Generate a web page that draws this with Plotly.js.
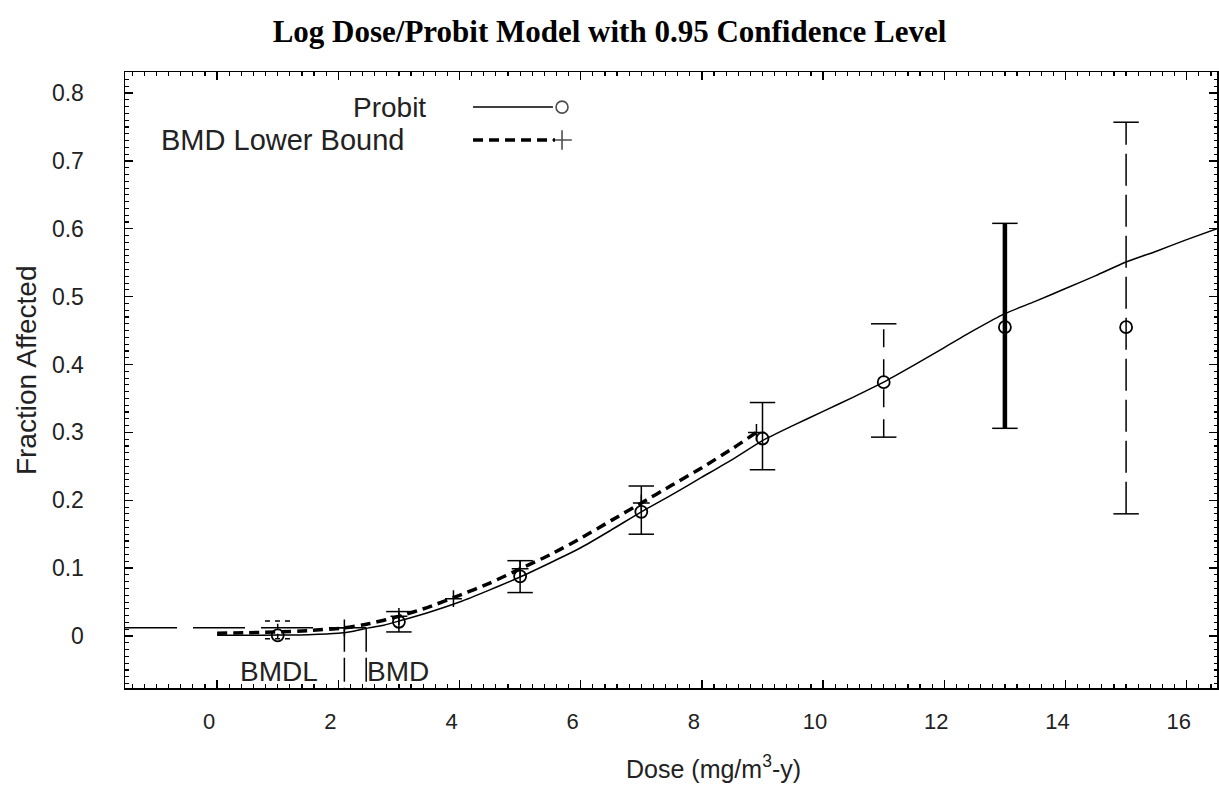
<!DOCTYPE html>
<html>
<head>
<meta charset="utf-8">
<script src="https://cdn.plot.ly/plotly-3.0.1.min.js"></script>
<style>
html,body{margin:0;padding:0;background:#fff;}
#chart{width:1219px;height:792px;}
</style>
</head>
<body>
<div id="chart"></div>
<script>
// ---- Data ----
const doses = [1, 3, 5, 7, 9, 11, 13, 15];
const fracAffected = [0.001, 0.021, 0.088, 0.183, 0.291, 0.374, 0.455, 0.455];
const ciLower = [-0.004, 0.006, 0.064, 0.150, 0.245, 0.293, 0.306, 0.180];
const ciUpper = [0.022, 0.036, 0.111, 0.221, 0.344, 0.460, 0.608, 0.757];

const probitDose = [0, 0.5, 1, 1.5, 2, 2.25, 2.5, 2.75, 3, 3.5, 4, 4.5, 5, 5.5, 6, 6.5, 7, 7.5, 8, 8.5, 9, 9.5, 10, 10.5, 11, 11.5, 12, 12.5, 13, 13.5, 14, 14.5, 15, 15.5, 16, 16.5];
const probitFrac = [0.001, 0.001, 0.0015, 0.002, 0.004, 0.007, 0.012, 0.016, 0.022, 0.035, 0.050, 0.068, 0.087, 0.108, 0.130, 0.156, 0.183, 0.208, 0.234, 0.260, 0.288, 0.310, 0.331, 0.352, 0.374, 0.399, 0.425, 0.451, 0.475, 0.493, 0.512, 0.531, 0.551, 0.567, 0.584, 0.600];

const lowerDose = [0, 1, 1.5, 2.1, 2.5, 3, 3.5, 4, 4.5, 5, 5.5, 6, 6.5, 7, 7.5, 8, 8.5, 8.9];
const lowerFrac = [0.004, 0.006, 0.008, 0.012, 0.018, 0.029, 0.043, 0.060, 0.078, 0.099, 0.120, 0.144, 0.170, 0.196, 0.222, 0.248, 0.276, 0.300];

const lowerMarkDose = [2.1, 3.0, 3.9, 5.0, 7.0, 8.9];
const lowerMarkFrac = [0.012, 0.029, 0.055, 0.099, 0.196, 0.300];

const bmr = 0.012;
const bmdl = 2.1;
const bmd = 2.46;

const xTickVals = [0, 2, 4, 6, 8, 10, 12, 14, 16];
const yTickVals = [0, 0.1, 0.2, 0.3, 0.4, 0.5, 0.6, 0.7, 0.8];
const yTickText = ['0', '0.1', '0.2', '0.3', '0.4', '0.5', '0.6', '0.7', '0.8'];

// ---- Styles ----
const xRange = [-1.52, 16.5];
const yRange = [-0.0766, 0.831];
const barDash = ['5px,5px', 'solid', 'solid', 'solid', 'solid', '18px,12px', 'solid', '32px,9px'];
const barWidth = [1.5, 1.5, 1.5, 1.5, 1.5, 1.5, 4.5, 1.5];
const capHalf = 0.21;
const sansFont = 'Liberation Sans, Arial, sans-serif';
const textColor = '#222';

const traces = [];

// BMR horizontal reference
traces.push({
  x: [xRange[0], bmd], y: [bmr, bmr], mode: 'lines',
  line: {color: '#000', width: 1.5, dash: '52px,16px'}, hoverinfo: 'skip'
});
// BMDL & BMD verticals
[bmdl, bmd].forEach(v => traces.push({
  x: [v, v], y: [bmr, yRange[0]], mode: 'lines',
  line: {color: '#000', width: 1.5, dash: '24px,6px'}, hoverinfo: 'skip'
}));

// Probit curve
traces.push({
  x: probitDose, y: probitFrac, mode: 'lines', line: {color: '#000', width: 1.5, shape: 'spline', smoothing: 0.6}
});
// BMD lower bound curve
traces.push({
  x: lowerDose, y: lowerFrac, mode: 'lines', line: {color: '#000', width: 3.5, dash: '10px,6px', shape: 'spline', smoothing: 0.6}
});
traces.push({
  x: lowerMarkDose, y: lowerMarkFrac, mode: 'markers',
  marker: {symbol: 'cross-thin-open', size: 12, color: '#000', line: {color: '#000', width: 1.5}}
});

// Error bars
doses.forEach((d, i) => {
  traces.push({
    x: [d, d], y: [ciLower[i], ciUpper[i]], mode: 'lines',
    line: {color: '#000', width: barWidth[i], dash: barDash[i]}, hoverinfo: 'skip'
  });
  traces.push({
    x: [d - capHalf, d + capHalf, null, d - capHalf, d + capHalf],
    y: [ciUpper[i], ciUpper[i], null, ciLower[i], ciLower[i]], mode: 'lines',
    line: {color: '#000', width: 1.5, dash: i === 0 ? barDash[0] : 'solid'}, hoverinfo: 'skip'
  });
});

// Observed data
traces.push({
  x: doses, y: fracAffected, mode: 'markers',
  marker: {symbol: 'circle-open', size: 12, color: '#000', line: {color: '#000', width: 1.8}}
});

// Legend symbols (paper-like overlay axes)
traces.push({
  x: [0.4002, 0.4002], y: [0.943, 0.8896], xaxis: 'x2', yaxis: 'y2', mode: 'markers',
  marker: {symbol: ['circle-open', 'cross-thin-open'], size: [12, 14], color: '#000', line: {color: '#000', width: 1.6}}
});

traces.forEach(t => { t.showlegend = false; });

const layout = {
  width: 1219, height: 792,
  margin: {l: 125, r: 2, t: 72, b: 104},
  paper_bgcolor: '#fff', plot_bgcolor: '#fff',
  title: {
    text: 'Log Dose/Probit Model with 0.95 Confidence Level',
    font: {family: 'Liberation Serif, Times New Roman, serif', size: 31, color: '#000', weight: 'bold'},
    x: 0.5, xref: 'container', xanchor: 'center', y: 0.961, yref: 'container', yanchor: 'middle'
  },
  xaxis: {
    range: xRange, showgrid: false, zeroline: false,
    showline: true, linecolor: '#000', linewidth: 1.5, mirror: 'allticks',
    ticks: 'inside', ticklen: 8, tickwidth: 1.3, tickcolor: '#000',
    tickvals: xTickVals, ticklabelstandoff: 13, ticklabelshift: -8,
    tickfont: {family: sansFont, size: 22, color: textColor},
    minor: {dtick: 0.2, tick0: 0, ticks: 'inside', ticklen: 4, tickwidth: 1.2, tickcolor: '#000', showgrid: false}
  },
  yaxis: {
    range: yRange, showgrid: false, zeroline: false,
    showline: true, linecolor: '#000', linewidth: 1.5, mirror: 'allticks',
    ticks: 'inside', ticklen: 8, tickwidth: 1.3, tickcolor: '#000',
    tickvals: yTickVals, ticktext: yTickText, ticklabelstandoff: 35,
    tickfont: {family: sansFont, size: 23, color: textColor},
    minor: {dtick: 0.01, tick0: 0, ticks: 'inside', ticklen: 3.5, tickwidth: 1.1, tickcolor: '#000', showgrid: false}
  },
  xaxis2: {overlaying: 'x', range: [0, 1], visible: false, fixedrange: true},
  yaxis2: {overlaying: 'y', range: [0, 1], visible: false, fixedrange: true},
  shapes: [
    {type: 'line', xref: 'paper', yref: 'paper', x0: 0.3187, x1: 0.3919, y0: 0.943, y1: 0.943, line: {color: '#000', width: 1.5}},
    {type: 'line', xref: 'paper', yref: 'paper', x0: 0.3187, x1: 0.3938, y0: 0.8896, y1: 0.8896, line: {color: '#000', width: 3.5, dash: '10px,6px'}}
  ],
  annotations: [
    {text: 'Probit', xref: 'paper', yref: 'paper', x: 0.2775, y: 0.943, xanchor: 'right', yanchor: 'middle', showarrow: false,
     font: {family: sansFont, size: 28, color: textColor}},
    {text: 'BMD Lower Bound', xref: 'paper', yref: 'paper', x: 0.2573, y: 0.8896, xanchor: 'right', yanchor: 'middle', showarrow: false,
     font: {family: sansFont, size: 29, color: textColor}},
    {text: 'BMDL', xref: 'x', yref: 'paper', x: bmdl, xshift: -24, y: 0.026, xanchor: 'right', yanchor: 'middle', showarrow: false,
     font: {family: sansFont, size: 28, color: textColor}},
    {text: 'BMD', xref: 'x', yref: 'paper', x: bmd, xshift: -1, y: 0.026, xanchor: 'left', yanchor: 'middle', showarrow: false,
     font: {family: sansFont, size: 28, color: textColor}},
    {text: 'Dose (mg/m<sup>3</sup>-y)', xref: 'paper', yref: 'paper', x: 0.5385, y: -0.128, xanchor: 'center', yanchor: 'middle', showarrow: false,
     font: {family: sansFont, size: 25, color: textColor}},
    {text: 'Fraction Affected', xref: 'paper', yref: 'paper', x: -0.0907, y: 0.516, textangle: -90, xanchor: 'center', yanchor: 'middle', showarrow: false,
     font: {family: sansFont, size: 28, color: textColor}}
  ]
};

Plotly.newPlot('chart', traces, layout, {staticPlot: true, displayModeBar: false});
</script>
</body>
</html>
